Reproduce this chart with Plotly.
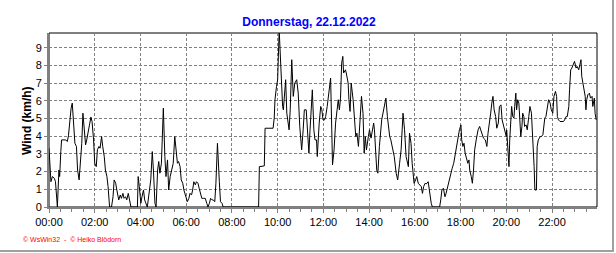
import plotly.graph_objects as go

# ---- data (minutes since midnight, wind in km/h) ----
minutes_a = [0, 5, 9, 14, 17, 19, 22, 26, 28, 31,
             33, 44, 48, 51, 54, 58, 61, 65, 68, 72,
             75, 79, 82, 86, 89, 93, 96, 99, 103, 106,
             110, 113, 117, 120, 124, 127, 131, 134, 138, 141,
             145, 148, 152, 155, 159, 164, 168, 171, 175, 178,
             183, 187, 190, 194, 197, 201, 204, 208, 211, 215,
             232, 234, 237, 241, 244, 248, 251, 255, 258, 267,
             271, 274, 278, 281, 285, 288, 291, 295, 298, 300,
             304, 307, 311, 314, 318, 321, 326, 330, 333, 337,
             340, 344, 347, 351, 354, 360, 363, 367, 370, 374,
             377, 380, 384, 387, 391, 394, 398, 401, 405, 410,
             414, 417, 421, 424, 428, 431, 435, 438, 442, 443,
             447, 450, 454, 457]
wind_a = [3.32, 1.43, 1.72, 1.62, 1.43, 0.77, 0, 2.09, 1.72, 3.13,
          3.79, 3.79, 3.70, 4.02, 4.92, 5.58, 5.87, 4.55, 3.60, 3.42,
          2.09, 1.53, 2.28, 3.60, 5.30, 4.17, 3.51, 3.79, 4.36, 4.74,
          5.08, 4.83, 3.79, 2.47, 2.28, 3.23, 3.42, 3.32, 3.98, 3.42,
          2.85, 2.09, 1.72, 1.15, 0, 0, 0.58, 1.53, 1.34, 0.96,
          0.40, 0.68, 0.49, 0.77, 0.49, 0.58, 0.40, 0.77, 0.40, 0,
          0, 1.72, 1.15, 0.21, 0.58, 0.96, 0.40, 0.11, 0, 1.53,
          3.13, 2.09, 0.21, 0, 2.09, 2.57, 1.91, 2.47, 4.74, 5.58,
          2.85, 1.72, 2.66, 0.96, 1.72, 2.09, 2.47, 3.98, 3.23, 2.47,
          2.57, 2.28, 1.53, 1.34, 0.96, 0.58, 0.30, 0.49, 0.77, 0.68,
          0.96, 1.43, 1.25, 1.43, 1.34, 1.06, 0.68, 0.49, 0.49, 0.49,
          0.21, 0, 0.21, 0.49, 0.40, 0.40, 0.30, 1.34, 3.60, 3.04,
          1.43, 0.30, 0.21, 0]

minutes_b = [550, 552, 565, 567, 588, 591, 593, 597, 600, 604,
             606, 608, 610, 613, 615, 618, 621, 624, 630, 633,
             635, 637, 641, 645, 650, 654, 658, 663, 667, 670,
             675, 679, 682, 685, 688, 691, 695, 698, 702, 704,
             709, 713, 716, 719, 723, 726, 730, 733, 739, 742,
             744, 748, 752, 756, 759, 762, 765, 768, 771, 773,
             778, 780, 785, 787, 790, 793, 798, 805, 808, 812,
             816, 820, 824, 827, 830, 833, 838, 841, 845, 848,
             852, 854, 857, 860, 863, 867, 873, 879, 884, 888,
             894, 897, 901, 906, 911, 915, 920, 924, 929, 933,
             937, 943, 946, 950, 953, 956, 958, 962, 965, 969]
wind_b = [0, 2.28, 2.32, 4.45, 4.45, 5.02, 6.06, 6.81, 7.19, 10.0,
          8.89, 8.70, 7.19, 5.68, 5.49, 6.25, 7.19, 5.30, 4.36, 5.49,
          7.38, 8.32, 6.25, 7.00, 7.19, 6.43, 4.55, 3.23, 4.36, 5.49,
          5.49, 3.98, 3.04, 4.36, 5.30, 6.62, 4.36, 3.79, 3.79, 2.85,
          4.74, 5.68, 5.49, 4.92, 4.92, 5.11, 5.68, 6.25, 7.28, 4.36,
          2.38, 3.23, 4.74, 5.49, 6.06, 5.49, 6.15, 8.13, 8.51, 7.57,
          7.75, 7.57, 7.00, 6.06, 5.40, 7.00, 6.06, 3.98, 4.17, 3.42,
          5.11, 6.25, 5.30, 3.04, 3.98, 3.23, 3.98, 4.36, 3.89, 4.36,
          4.74, 4.36, 3.42, 2.09, 1.91, 3.42, 4.92, 5.68, 6.15, 5.11,
          3.98, 3.79, 3.42, 2.85, 1.91, 1.53, 2.47, 3.23, 5.30, 4.36,
          2.85, 2.28, 4.17, 3.60, 2.47, 1.72, 1.34, 1.53, 1.72, 1.34]

minutes_c = [973, 977, 980, 983, 987, 990, 995, 999, 1003, 1006,
             1025, 1028, 1031, 1035, 1039, 1042, 1046, 1051, 1055, 1058,
             1062, 1065, 1069, 1073, 1077, 1081, 1083, 1086, 1089, 1092,
             1097, 1099, 1102, 1104, 1108, 1111, 1114, 1117, 1121, 1126,
             1130, 1133, 1137, 1140, 1145, 1149, 1152, 1156, 1159, 1162,
             1165, 1168, 1172, 1175, 1179, 1182, 1186, 1189, 1192, 1194,
             1197, 1200, 1201, 1204, 1207, 1209, 1212, 1214, 1217, 1220,
             1222, 1225, 1227, 1230, 1233, 1235, 1238, 1241, 1243, 1246,
             1248, 1252, 1255, 1259, 1262, 1266, 1269, 1273, 1275, 1279,
             1281, 1284, 1289, 1292, 1296, 1298, 1301, 1304, 1308, 1311,
             1315, 1318, 1322, 1325, 1329, 1332, 1334, 1337, 1341, 1345,
             1350, 1353, 1357, 1360, 1364, 1366, 1369, 1372, 1376, 1379,
             1383, 1386, 1390, 1393, 1396, 1398, 1402, 1404, 1407, 1409,
             1411, 1414, 1418, 1421, 1425, 1427, 1431, 1433, 1436]
wind_c = [1.25, 1.15, 0.77, 1.15, 1.34, 1.30, 1.43, 0.77, 0.21, 0,
          0, 0.40, 0.96, 1.06, 0.58, 0.77, 1.15, 1.53, 2.09, 2.19,
          2.47, 2.85, 3.60, 3.98, 4.36, 4.64, 3.79, 3.42, 3.60, 3.04,
          2.57, 2.47, 2.66, 2.09, 1.72, 1.34, 2.09, 3.23, 3.79, 4.36,
          4.55, 4.36, 4.08, 3.89, 3.79, 3.42, 4.17, 5.02, 5.30, 5.87,
          6.25, 5.49, 5.11, 4.45, 4.74, 5.68, 5.77, 4.92, 4.64, 4.55,
          4.17, 3.98, 4.36, 3.42, 2.28, 3.79, 5.11, 5.68, 5.11, 5.02,
          5.68, 6.43, 5.49, 6.06, 5.87, 5.30, 3.98, 4.55, 5.30, 5.11,
          4.55, 4.64, 4.36, 5.11, 5.68, 5.30, 4.17, 2.28, 0.96, 0.96,
          3.42, 3.79, 3.98, 3.98, 4.08, 4.55, 5.02, 5.11, 5.68, 6.06,
          5.87, 5.49, 5.30, 6.25, 6.53, 6.25, 5.11, 4.92, 4.83, 4.83,
          4.83, 4.92, 5.11, 5.11, 5.68, 6.62, 7.75, 7.85, 8.13, 8.23,
          7.85, 7.94, 7.75, 8.04, 8.32, 7.38, 6.91, 6.62, 6.25, 5.49,
          6.06, 6.34, 6.43, 6.15, 6.25, 5.68, 6.15, 5.30, 4.92]

tick_minutes = [0, 120, 240, 360, 480, 600, 720, 840, 960, 1080, 1200, 1320]
tick_labels = ["00:00", "02:00", "04:00", "06:00", "08:00", "10:00",
               "12:00", "14:00", "16:00", "18:00", "20:00", "22:00"]
y_ticks = [0, 1, 2, 3, 4, 5, 6, 7, 8, 9]

title_text = "Donnerstag, 22.12.2022"
y_title = "Wind (km/h)"
footer_text = "\u00a9 WsWin32  -  \u00a9 Heiko Blödorn"

minutes = minutes_a + minutes_b + minutes_c
wind = wind_a + wind_b + wind_c

GRID = "#808080"
FONT = "Liberation Sans, Arial, sans-serif"

fig = go.Figure(go.Scatter(x=minutes, y=wind, mode="lines",
                           line=dict(color="black", width=1),
                           hoverinfo="skip", showlegend=False))

W, H = 616, 253
L, R, T, B = 49, 19, 33, 46
pw, ph = W - L - R, H - T - B

def px_x(px):
    return (px - L) / pw

def px_y(py):
    return (H - B - py) / ph

fig.update_layout(
    width=W, height=H,
    margin=dict(l=L, r=R, t=T, b=B, pad=0),
    paper_bgcolor="white", plot_bgcolor="white",
    font=dict(family=FONT, size=11, color="black"),
    title=dict(text="<b>" + title_text + "</b>", x=309 / W, xref="container",
               xanchor="center", y=1 - 22 / H, yref="container", yanchor="middle",
               font=dict(family=FONT, size=12, color="#0000ff")),
    xaxis=dict(range=[0, 1438], tickmode="array", tickvals=tick_minutes,
               ticktext=tick_labels, showgrid=True, gridcolor=GRID,
               griddash="3px,2px", gridwidth=1, zeroline=False,
               showline=True, linecolor=GRID, linewidth=2,
               ticks="outside", ticklen=4, tickcolor=GRID, tickwidth=1,
               layer="below traces", fixedrange=True,
               minor=dict(tickmode="linear", tick0=0, dtick=30, ticks="outside",
                          ticklen=3, tickcolor=GRID, showgrid=False),
               tickfont=dict(family=FONT, size=11, color="black")),
    yaxis=dict(range=[0, 9.83], tickmode="array", tickvals=y_ticks,
               showgrid=True, gridcolor=GRID, griddash="3px,2px", gridwidth=1,
               zeroline=False, showline=True, linecolor=GRID, linewidth=2,
               ticks="outside", ticklen=3, tickcolor=GRID, tickwidth=1,
               layer="below traces", fixedrange=True,
               tickfont=dict(family=FONT, size=11, color="black")),
    shapes=[
        dict(type="rect", xref="paper", yref="paper", x0=0, x1=1, y0=0, y1=1,
             line=dict(color="black", width=1), layer="below"),
        dict(type="line", xref="paper", yref="paper",
             x0=px_x(613), x1=px_x(613), y0=px_y(-2), y1=px_y(252),
             line=dict(color="#a0a0a0", width=2)),
        dict(type="line", xref="paper", yref="paper",
             x0=px_x(-2), x1=px_x(614), y0=px_y(251), y1=px_y(251),
             line=dict(color="#a0a0a0", width=2)),
    ],
    annotations=[
        dict(text="<b>" + y_title + "</b>", xref="paper", yref="paper",
             x=px_x(27), y=px_y(121), xanchor="center", yanchor="middle",
             textangle=-90, showarrow=False,
             font=dict(family=FONT, size=12, color="black")),
        dict(text=footer_text, xref="paper", yref="paper",
             x=px_x(21), y=px_y(239), xanchor="left", yanchor="middle",
             showarrow=False, font=dict(family=FONT, size=7, color="#ff0000")),
    ],
)

fig.write_html("out.html", config={"displayModeBar": False})
